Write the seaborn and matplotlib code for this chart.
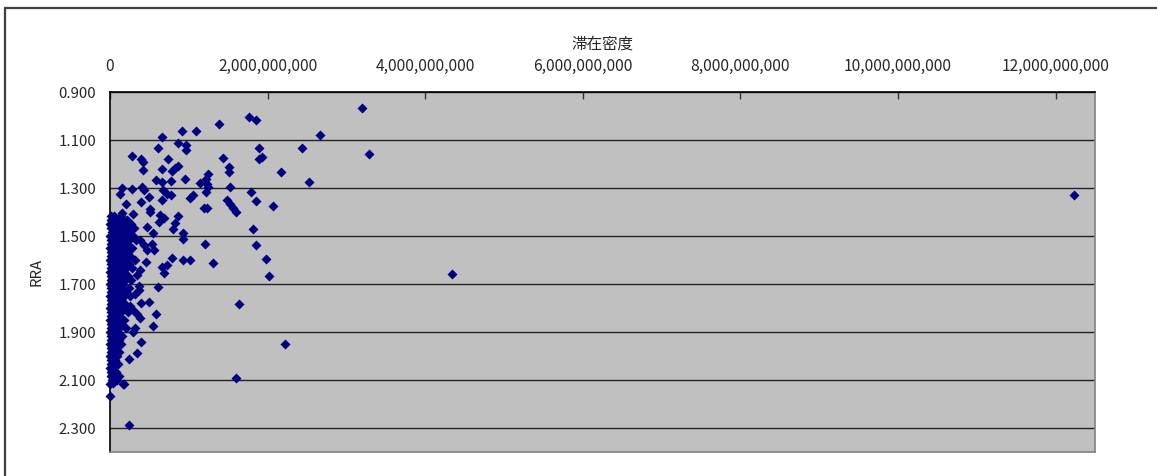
import numpy as np
import matplotlib
matplotlib.use("Agg")
import matplotlib.pyplot as plt
import seaborn as sns
import pandas as pd
from matplotlib.ticker import FuncFormatter
from matplotlib.lines import Line2D

# ---- data: 滞在密度 in billions, RRA ----
# dense strip next to the axis: rra -> list of densities (bn)
core_rows = {
    1.418: [0.010, 0.050, 0.139],
    1.435: [0.015, 0.089, 0.152, 0.215],
    1.451: [0.005, 0.038, 0.127, 0.203, 0.266],
    1.468: [0.010, 0.063, 0.139, 0.253, 0.304],
    1.485: [0.025, 0.100, 0.177, 0.228],
    1.502: [0.005, 0.050, 0.114, 0.203, 0.291],
    1.518: [0.015, 0.076, 0.152, 0.241, 0.329],
    1.535: [0.010, 0.050, 0.127, 0.215],
    1.551: [0.005, 0.038, 0.089, 0.177, 0.279],
    1.568: [0.015, 0.076, 0.139, 0.228],
    1.585: [0.010, 0.050, 0.114, 0.165, 0.253],
    1.601: [0.005, 0.038, 0.100, 0.190, 0.317],
    1.618: [0.015, 0.076, 0.139, 0.241],
    1.634: [0.010, 0.050, 0.127, 0.203, 0.279],
    1.651: [0.005, 0.038, 0.100, 0.177],
    1.668: [0.015, 0.076, 0.139, 0.228],
    1.684: [0.010, 0.050, 0.114, 0.190, 0.266],
    1.701: [0.005, 0.038, 0.100, 0.165],
    1.718: [0.015, 0.076, 0.139, 0.241],
    1.734: [0.010, 0.050, 0.114, 0.190],
    1.751: [0.005, 0.038, 0.100, 0.177, 0.253],
    1.767: [0.015, 0.076, 0.139],
    1.784: [0.010, 0.050, 0.114, 0.190],
    1.800: [0.005, 0.038, 0.100, 0.165],
    1.817: [0.015, 0.076, 0.139, 0.228],
    1.834: [0.010, 0.050, 0.114],
    1.850: [0.005, 0.038, 0.100, 0.177],
    1.867: [0.015, 0.076, 0.139],
    1.884: [0.010, 0.050, 0.114, 0.203],
    1.900: [0.005, 0.038, 0.100],
    1.917: [0.015, 0.076, 0.152],
    1.933: [0.010, 0.050, 0.114],
    1.950: [0.005, 0.038, 0.100, 0.139],
    1.967: [0.015, 0.076],
    1.983: [0.010, 0.050, 0.114],
    2.000: [0.005, 0.038, 0.089],
    2.016: [0.015, 0.063],
    2.033: [0.010, 0.050, 0.100],
    2.050: [0.005, 0.025],
    2.066: [0.015, 0.076],
    2.083: [0.010, 0.050],
    2.099: [0.025, 0.089],
    2.116: [0.005],
}

# scattered points (density bn, rra)
spread_pts = [
    (1.761, 1.003), (1.849, 1.016), (1.377, 1.034), (1.096, 1.064), (0.912, 1.064),
    (0.659, 1.089), (2.660, 1.078), (2.432, 1.133), (1.887, 1.133), (0.604, 1.133),
    (0.865, 1.114), (0.963, 1.120), (0.966, 1.142), (0.282, 1.168), (0.393, 1.181),
    (0.414, 1.191), (0.418, 1.225), (0.735, 1.181), (0.659, 1.219), (1.431, 1.175),
    (1.887, 1.181), (1.929, 1.169), (2.166, 1.232), (2.525, 1.275), (1.511, 1.211),
    (1.511, 1.233), (0.861, 1.208), (0.820, 1.216), (0.785, 1.230), (0.950, 1.262),
    (0.579, 1.266), (0.659, 1.274), (0.769, 1.272), (1.238, 1.240), (1.222, 1.263),
    (1.140, 1.278), (1.225, 1.283), (1.244, 1.296), (1.529, 1.294), (0.146, 1.302),
    (0.130, 1.327), (0.279, 1.305), (0.409, 1.297), (0.431, 1.310), (0.675, 1.310),
    (0.728, 1.325), (0.773, 1.331), (0.659, 1.349), (0.490, 1.339), (0.396, 1.359),
    (0.205, 1.367), (1.056, 1.331), (1.013, 1.342), (1.216, 1.317), (1.790, 1.317),
    (1.848, 1.355), (2.071, 1.373), (1.482, 1.350), (1.524, 1.368), (1.562, 1.383),
    (1.605, 1.398), (1.193, 1.383), (1.236, 1.384), (0.513, 1.386), (0.507, 1.398),
    (0.152, 1.403), (0.298, 1.408), (0.636, 1.413), (0.679, 1.424), (0.621, 1.440),
    (0.868, 1.415), (0.831, 1.447), (0.804, 1.472), (0.469, 1.463), (0.548, 1.488),
    (0.925, 1.489), (0.928, 1.512), (1.809, 1.470), (1.847, 1.537), (1.206, 1.532),
    (0.431, 1.539), (0.536, 1.535), (0.557, 1.559), (0.380, 1.518), (0.465, 1.559),
    (0.928, 1.601), (1.017, 1.599), (1.301, 1.612), (1.982, 1.594), (2.017, 1.667),
    (0.659, 1.628), (0.719, 1.620), (0.684, 1.653), (0.782, 1.590), (0.607, 1.712),
    (0.374, 1.710), (0.371, 1.725), (0.396, 1.778), (0.498, 1.777), (0.583, 1.824),
    (0.543, 1.876), (0.317, 1.884), (0.295, 1.898), (0.395, 1.943), (0.342, 1.987),
    (0.244, 2.011), (1.638, 1.785), (2.226, 1.950), (1.605, 2.092), (0.000, 2.167),
    (0.244, 2.289), (0.171, 2.118), (0.118, 2.082), (0.042, 2.113), (0.253, 1.791),
    (0.295, 1.808), (0.338, 1.826), (0.380, 1.843), (0.317, 1.743), (0.456, 1.608),
    (0.380, 1.642), (0.338, 1.663), (0.177, 2.115),
]

# far right points
far_pts = [(12.23, 1.331), (4.345, 1.659), (3.198, 0.966), (3.293, 1.157)]

x_ticks = [0, 2e9, 4e9, 6e9, 8e9, 10e9, 12e9]
y_ticks = [0.9, 1.1, 1.3, 1.5, 1.7, 1.9, 2.1, 2.3]

# ---- build frame ----
dens, rra = [], []
for r, xs in core_rows.items():
    for x in xs:
        dens.append(x)
        rra.append(r)
for x, r in spread_pts + far_pts:
    dens.append(x)
    rra.append(r)
df = pd.DataFrame({"density": np.array(dens) * 1e9, "RRA": rra})

sns.set_style("white")
plt.rcParams["font.family"] = ["Noto Sans CJK JP", "DejaVu Sans"]

fig = plt.figure(figsize=(11.57, 4.76), dpi=100)
ax = fig.add_axes([110 / 1157, 1 - 452 / 476, 985 / 1157, 360 / 476])
ax.set_facecolor("#C0C0C0")

sns.scatterplot(data=df, x="density", y="RRA", ax=ax, marker="D", s=26,
                color="#000080", linewidth=0, clip_on=False, zorder=3)

ax.set_xlim(0, 12.5e9)
ax.set_ylim(2.4, 0.9)
ax.xaxis.tick_top()
ax.xaxis.set_label_position("top")
ax.set_xticks(x_ticks)
ax.set_yticks(y_ticks)
ax.xaxis.set_major_formatter(FuncFormatter(lambda v, p: f"{v:,.0f}"))
ax.yaxis.set_major_formatter(FuncFormatter(lambda v, p: f"{v:.3f}"))
ax.tick_params(axis="x", direction="in", length=5, width=1, color="#333333",
               labelsize=11.2, pad=12, top=True, bottom=False)
ax.tick_params(axis="y", direction="in", length=5, width=1, color="#333333",
               labelsize=10.8, pad=10)
ax.grid(axis="y", color="#222222", linewidth=1.0)
ax.grid(axis="x", visible=False)

for side in ["left", "top"]:
    ax.spines[side].set_color("#000000")
    ax.spines[side].set_linewidth(1.2)
for side in ["right", "bottom"]:
    ax.spines[side].set_color("#808080")
    ax.spines[side].set_linewidth(1.2)

ax.set_xlabel("滞在密度", fontsize=11.2, labelpad=7)
ax.set_ylabel("RRA", fontsize=10.8, labelpad=11)

# chart frame
fig.add_artist(Line2D([5 / 1157, 1.0], [1 - 8 / 476, 1 - 8 / 476],
                      transform=fig.transFigure, color="#404040", linewidth=1.6))
fig.add_artist(Line2D([5 / 1157, 5 / 1157], [1 - 8 / 476, 0.0],
                      transform=fig.transFigure, color="#404040", linewidth=1.6))

fig.savefig("out.png", dpi=100)
